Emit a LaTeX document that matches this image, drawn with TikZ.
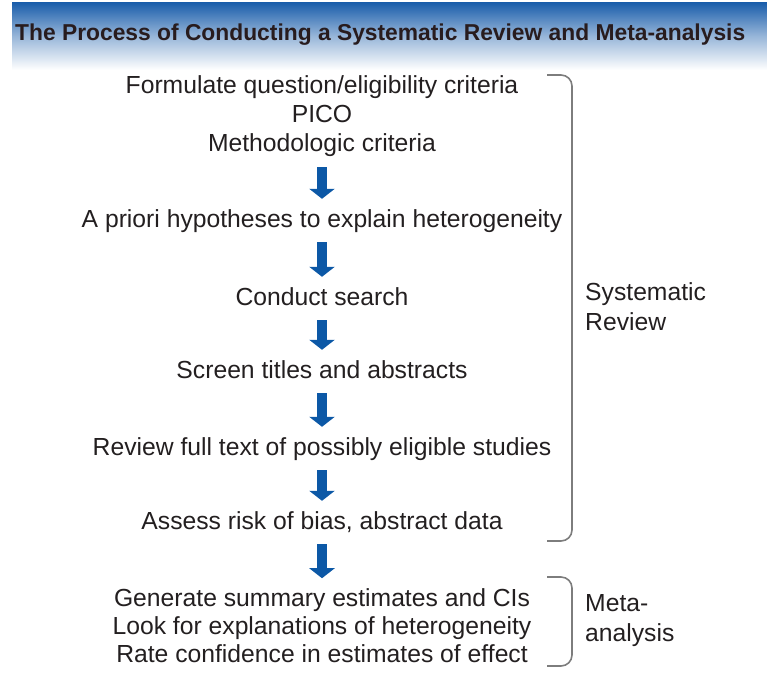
\documentclass[tikz,border=0pt]{standalone}
\usepackage{fontspec}
\setmainfont{Liberation Sans}
\usepackage{graphicx}
\usetikzlibrary{arrows.meta,positioning,calc}
\definecolor{titleblue}{RGB}{24,92,170}
\definecolor{arrowblue}{RGB}{12,88,166}
\definecolor{inktext}{RGB}{35,31,32}
\definecolor{titleink}{RGB}{40,28,30}
\definecolor{bracegray}{RGB}{125,125,125}
\tikzset{%
	steptext/.style  = {align=center, inner sep=0pt, text height=18pt, text depth=5pt, text=inktext, font=\fontsize{24.7}{29}\selectfont},
	stepblock/.style = {align=center, inner sep=0pt, text=inktext, font=\fontsize{24.7}{29}\selectfont},
	sidelabel/.style = {align=left, anchor=west, inner sep=0pt, text=inktext, font=\fontsize{24.7}{30}\selectfont},
	flow/.style      = {draw=arrowblue, line width=10pt, -{Triangle[width=25pt,length=10pt]}, shorten <=10pt, shorten >=10pt},
	brace/.style     = {draw=bracegray, line width=1.6pt, rounded corners=11pt},
}

\begin{document}
\begin{tikzpicture}[x=1pt,y=-1pt]
	\useasboundingbox (0,0) rectangle (767,686);
	% title bar
	\shade[top color=titleblue, bottom color=white, middle color=titleblue!45] (12,2) rectangle (767,70);
	\node [anchor=base west, inner sep=0pt, text=titleink] (title) at (15,40.5)
		{\resizebox{730pt}{\height}{\fontsize{23}{23}\selectfont\bfseries The Process of Conducting a Systematic Review and Meta-analysis}};
	% steps
	\node [stepblock] (formulate) at (322,116.5) {Formulate question/eligibility criteria\\PICO\\Methodologic criteria};
	\node [steptext] (hypo) [below of=formulate, node distance=104pt] {A priori hypotheses to explain heterogeneity};
	\node [steptext] (search) [below of=hypo, node distance=78pt] {Conduct search};
	\node [steptext] (screen) [below of=search, node distance=73pt] {Screen titles and abstracts};
	\node [steptext] (fulltext) [below of=screen, node distance=77pt] {Review full text of possibly eligible studies};
	\node [steptext] (assess) [below of=fulltext, node distance=74pt] {Assess risk of bias, abstract data};
	\node [stepblock, font=\fontsize{24.7}{28}\selectfont] (estimates) [below of=assess, node distance=103pt]
		{Generate summary estimates and CIs\\Look for explanations of heterogeneity\\Rate confidence in estimates of effect};
	\draw[flow] (formulate) -- (hypo);
	\draw[flow] (hypo) -- (search);
	\draw[flow] (search) -- (screen);
	\draw[flow] (screen) -- (fulltext);
	\draw[flow] (fulltext) -- (assess);
	\draw[flow] (assess) -- (estimates);
	% braces
	\draw[brace] (547,75) -- (572,75) -- (572,541) -- (547,541);
	\draw[brace] (547,577) -- (572,577) -- (572,666) -- (547,666);
	\node [sidelabel] (review) at (585,307) {Systematic\\Review};
	\node [sidelabel] (meta) at (585,621) {Meta-\\analysis};
\end{tikzpicture}
\end{document}
